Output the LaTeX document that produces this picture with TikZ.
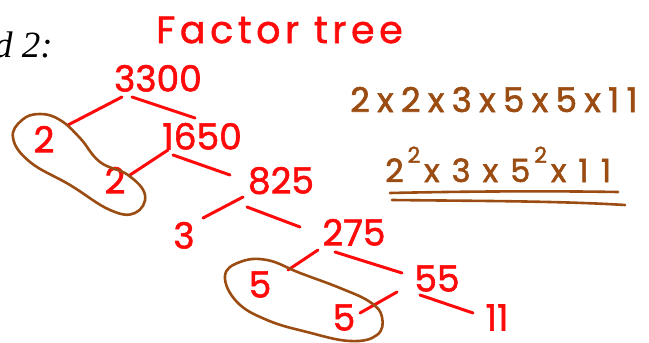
\documentclass[tikz,border=0pt]{standalone}
\usepackage{fontspec}
\setmainfont{Liberation Serif}
\newfontfamily\hand[FakeBold=1.6]{Poppins}
\newfontfamily\handwide[FakeBold=1.8,LetterSpace=22]{Poppins}
\newfontfamily\handwider[FakeBold=1.8,LetterSpace=38]{Poppins}
\newfontfamily\handtitle[FakeBold=1.4,LetterSpace=12]{Poppins}
\definecolor{pen}{HTML}{FF0A0A}
\definecolor{umber}{HTML}{9A4C12}
\usetikzlibrary{positioning,calc}
\newcommand{\sq}{\kern4pt\raisebox{0.6em}{\fontsize{22}{22}\selectfont 2}\kern4pt}

\begin{document}
\begin{tikzpicture}[x=1pt,y=-1pt,
  num/.style={text=pen,font=\hand\fontsize{36}{36}\selectfont,inner sep=3pt,text height=25pt,text depth=0pt},
  branch/.style={pen,line width=3pt,line cap=round},
  loopline/.style={umber,line width=2.6pt,line cap=round},
  result/.style={text=umber,inner sep=0pt}]
\useasboundingbox (0,0) rectangle (649,343);

% Heading
\node[anchor=base west,inner sep=0pt,font=\itshape\fontsize{37}{37}\selectfont] (lead) at (-6,57) {d 2:};
\node[anchor=base west,inner sep=0pt,text=pen,font=\handtitle\fontsize{38}{38}\selectfont] (title) at (156,43) {Factor tree};

% Tree of factors
\node[num] (n3300) at (158,79) {3300};
\node[num] (n2a) at (44,140) {2};
\node[num] (n1650) at (202,137) {1650};
\node[num] (n2b) at (115,181) {2};
\node[num] (n825) at (281,181) {825};
\node[num] (n3) at (184,236) {3};
\node[num] (n275) at (354,233) {275};
\node[num] (n5a) at (260,285) {5};
\node[num] (n55) at (437,279) {55};
\node[num] (n5b) at (344,318) {5};
\node[num] (n11) at (497,318) {11};

\draw[branch] ($(n3300)+(-36,18)$) -- ($(n2a)+(24,-15)$);
\draw[branch] ($(n3300)+(-26,18)$) -- ($(n1650)+(-7,-19)$);
\draw[branch] ($(n1650)+(-34,13)$) -- ($(n2b)+(15,-6)$);
\draw[branch] ($(n1650)+(-29,18)$) -- ($(n825)+(-51,-6)$);
\draw[branch] ($(n825)+(-38,16)$) -- ($(n3)+(19,-18)$);
\draw[branch] ($(n825)+(-34,26)$) -- ($(n275)+(-54,-6)$);
\draw[branch] ($(n275)+(-36,17)$) -- ($(n5a)+(28,-15)$);
\draw[branch] ($(n275)+(-19,19)$) -- ($(n55)+(-35,-6)$);
\draw[branch] ($(n55)+(-40,13)$) -- ($(n5b)+(16,-5)$);
\draw[branch] ($(n55)+(-17,16)$) -- ($(n11)+(-24,-5)$);

% Loops round the pairs
\draw[loopline] plot[smooth cycle,tension=0.7] coordinates {(13,138) (22,120) (40,114) (60,120) (80,138) (100,162) (128,175) (145,195) (135,213) (110,210) (70,185) (30,162)};
\draw[loopline] plot[smooth cycle,tension=0.7] coordinates {(225,276) (240,262) (267,260) (300,273) (340,288) (370,302) (382,317) (377,335) (350,341) (307,332) (267,320) (237,302)};

% Product of primes
\node[result,anchor=base west,font=\handwide\fontsize{34}{34}\selectfont] (prodA) at (350,112) {2x2x3x5x5x11};
\node[result,anchor=base west,font=\handwider\fontsize{32}{32}\selectfont] (prodB) at (385,182) {2\sq x3x5\sq x11};
\draw[loopline] (390,193) .. controls (480,191) and (560,191) .. (618,192);
\draw[loopline] (392,200) .. controls (480,201) and (560,201) .. (625,205);

\end{tikzpicture}
\end{document}
